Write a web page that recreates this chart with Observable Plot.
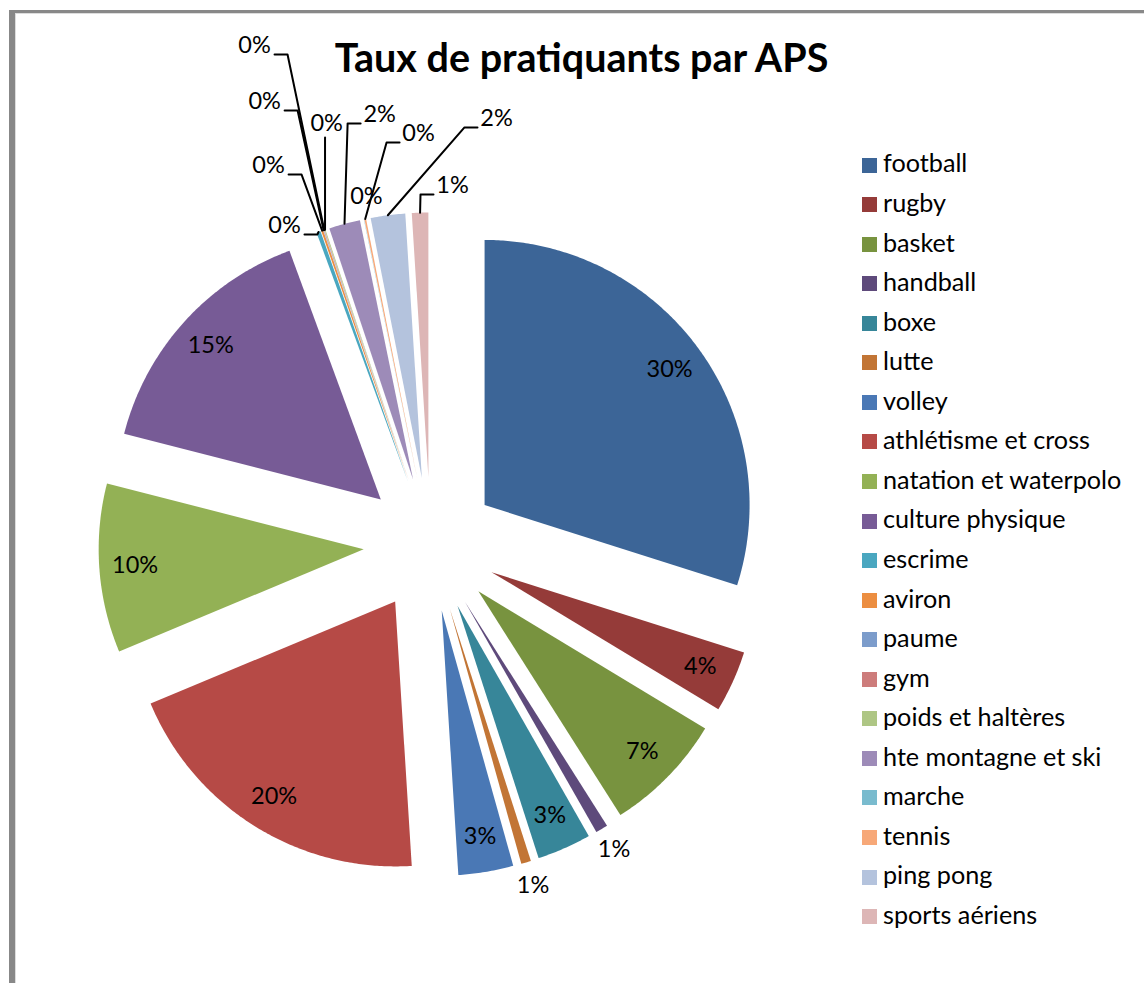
<!DOCTYPE html>
<html>
<head>
<meta charset="utf-8">
<script src="https://cdn.jsdelivr.net/npm/d3@7"></script>
<script src="https://cdn.jsdelivr.net/npm/@observablehq/plot@0.6"></script>
<style>
  body { margin: 0; background: #fff; }
  #wrap { position: relative; width: 1144px; height: 983px; overflow: hidden; background: #fff; font-family: Lato, "Open Sans", sans-serif; }
  #chart { position: absolute; left: 0; top: 0; }
  #frame { position: absolute; left: 9px; top: 10px; right: -10px; bottom: -10px; border-left: 6px solid #888; border-top: 3px solid #888; box-shadow: inset 1px 1px 0 #ddd; }
  #title { position: absolute; left: 0; width: 1163px; top: 37px; text-align: center; font-weight: bold; font-size: 39.5px; line-height: 40px; color: #000; }
  .lg-row { position: absolute; left: 862px; }
  .lg-sw { position: absolute; left: 0; width: 15px; height: 15px; }
  .lg-tx { position: absolute; left: 21px; white-space: nowrap; font-size: 25.2px; line-height: 25px; color: #000; }
</style>
</head>
<body>
<div id="wrap">
  <div id="chart"></div>
  <div id="frame"></div>
  <div id="title">Taux de pratiquants par APS</div>
  <div id="legend"></div>
</div>
<script>
// ---- data ----
const categories = ["football","rugby","basket","handball","boxe","lutte","volley","athlétisme et cross","natation et waterpolo","culture physique","escrime","aviron","paume","gym","poids et haltères","hte montagne et ski","marche","tennis","ping pong","sports aériens"];
const values = [29.9, 3.75, 7.35, 0.75, 3.3, 0.6, 3.35, 19.7, 10.3, 15.4, 0.25, 0.12, 0.03, 0.03, 0.05, 1.9, 0.02, 0.1, 2.1, 1.0];
const colors = ["#3C6597","#953B39","#78933F","#5E4A7B","#378699","#C27535","#4A78B5","#B64A46","#93B155","#775B96","#4AA7C0","#EC8E41","#7C9CCB","#CD7C7B","#AEC684","#9D8BB8","#79BBCE","#F7A878","#B4C3DD","#DDB6B6"];

// ---- layout (label placement, in pie-radius units relative to the pie centre) ----
const outsidePlain = ["handball","lutte"];
const leaderLabels = {
  "escrime":            {x: -0.551, y: 1.204, leader: true},
  "aviron":             {x: -0.611, y: 1.430, leader: true},
  "paume":              {x: -0.626, y: 1.672, leader: true},
  "gym":                {x: -0.664, y: 1.883, leader: true},
  "poids et haltères":  {x: -0.392, y: 1.589, leader: true},
  "hte montagne et ski":{x: -0.192, y: 1.623, leader: true},
  "marche":             {x: -0.242, y: 1.313, leader: false},
  "tennis":             {x: -0.045, y: 1.551, leader: true},
  "ping pong":          {x:  0.249, y: 1.608, leader: true},
  "sports aériens":     {x:  0.083, y: 1.355, leader: true}
};

const W = 1144, H = 983, CX = 430, CY = 544, R = 265, EXPLODE = 67 / 265;
const u = 1 / R;
const total = d3.sum(values);
let acc = 0;
const slices = categories.map((name, i) => {
  const a0 = acc / total * 2 * Math.PI; acc += values[i];
  const a1 = acc / total * 2 * Math.PI;
  const mid = (a0 + a1) / 2;
  const ox = EXPLODE * Math.sin(mid), oy = EXPLODE * Math.cos(mid);
  return {name, value: values[i], pct: Math.round(values[i] / total * 100) + "%",
          a0, a1, mid, ox, oy, tipX: ox + Math.sin(mid), tipY: oy + Math.cos(mid)};
});

// slice outlines
const pts = [];
for (const s of slices) {
  pts.push({name: s.name, x: s.ox, y: s.oy});
  const n = Math.max(2, Math.ceil((s.a1 - s.a0) / (Math.PI / 360)));
  for (let k = 0; k <= n; k++) {
    const a = s.a0 + (s.a1 - s.a0) * k / n;
    pts.push({name: s.name, x: s.ox + Math.sin(a), y: s.oy + Math.cos(a)});
  }
}

// labels
const labels = [];
const leaders = [];
for (const s of slices) {
  if (leaderLabels[s.name]) {
    const L = leaderLabels[s.name];
    labels.push({x: L.x, y: L.y, text: s.pct});
    if (L.leader) {
      const hw = 16 * u, bottom = L.y - 9 * u;
      let A, B;
      if (s.tipX > L.x + hw) { A = [L.x + hw + 4 * u, bottom]; B = [A[0] + 13 * u, bottom]; }
      else if (s.tipX < L.x - hw) { A = [L.x - hw - 3 * u, bottom]; B = [A[0] - 13 * u, bottom]; }
      else { A = [s.tipX, bottom - 5 * u]; B = A; }
      leaders.push({name: s.name, x: A[0], y: A[1]}, {name: s.name, x: B[0], y: B[1]}, {name: s.name, x: s.tipX, y: s.tipY});
    }
  } else if (outsidePlain.includes(s.name)) {
    labels.push({x: s.ox + 1.09 * Math.sin(s.mid), y: s.oy + 1.09 * Math.cos(s.mid), text: s.pct});
  } else {
    labels.push({x: s.ox + 0.865 * Math.sin(s.mid), y: s.oy + 0.865 * Math.cos(s.mid), text: s.pct});
  }
}

const chart = Plot.plot({
  width: W, height: H,
  marginLeft: 0, marginRight: 0, marginTop: 0, marginBottom: 0,
  style: {background: "transparent", fontFamily: "Lato, 'Open Sans', sans-serif"},
  x: {domain: [(0 - CX) / R, (W - CX) / R], range: [0, W], axis: null},
  y: {domain: [(CY - H) / R, CY / R], range: [H, 0], axis: null},
  color: {domain: categories, range: colors},
  marks: [
    Plot.line(pts, {x: "x", y: "y", z: "name", fill: "name", stroke: "none", curve: "linear-closed"}),
    Plot.line(leaders, {x: "x", y: "y", z: "name", stroke: "#000", strokeWidth: 2, curve: "linear"}),
    Plot.text(labels, {x: "x", y: "y", text: "text", fill: "#000", fontSize: 23.5, textAnchor: "middle"})
  ]
});
document.getElementById("chart").appendChild(chart);

// legend
const legend = document.getElementById("legend");
categories.forEach((name, i) => {
  const yc = 165 + i * 39.56;
  const row = document.createElement("div");
  row.className = "lg-row";
  row.style.top = "0px";
  const sw = document.createElement("div");
  sw.className = "lg-sw"; sw.style.background = colors[i]; sw.style.top = (yc - 7.5) + "px";
  const tx = document.createElement("div");
  tx.className = "lg-tx"; tx.textContent = name; tx.style.top = (yc - 14.6) + "px";
  row.appendChild(sw); row.appendChild(tx);
  legend.appendChild(row);
});
</script>
</body>
</html>
